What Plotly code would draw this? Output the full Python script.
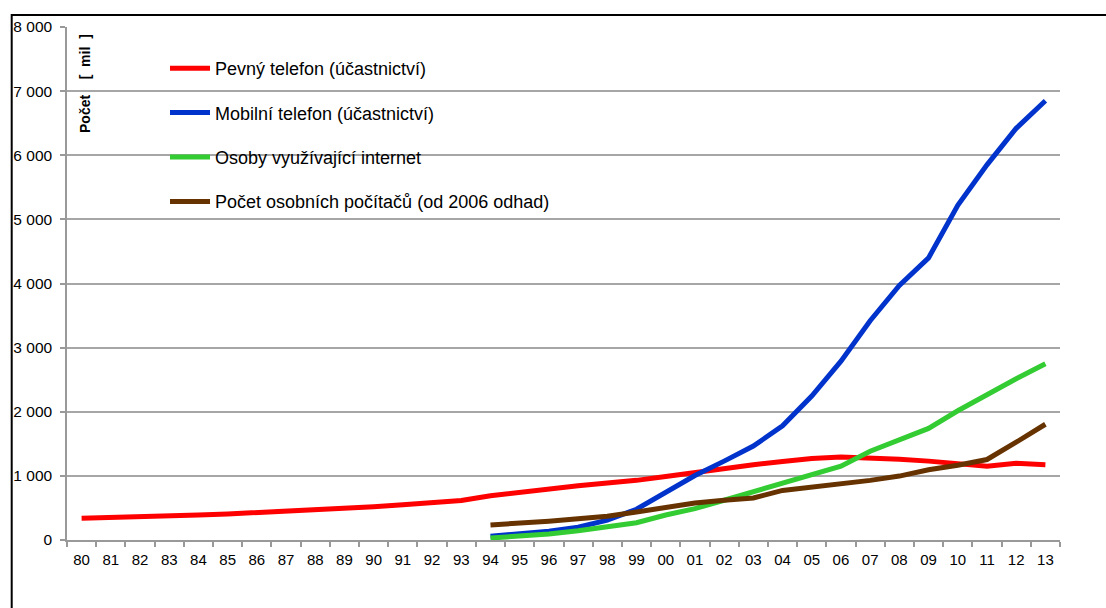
import plotly.graph_objects as go

# Roky 1980–2013 (popisky osy x)
years = ["80", "81", "82", "83", "84", "85", "86", "87", "88", "89",
         "90", "91", "92", "93", "94", "95", "96", "97", "98", "99",
         "00", "01", "02", "03", "04", "05", "06", "07", "08", "09",
         "10", "11", "12", "13"]

# Počty v milionech
pevny_telefon = [340, 350, 355, 370, 390, 405, 425, 445, 470, 490,
                 520, 550, 580, 615, 690, 745, 795, 845, 890, 930,
                 990, 1055, 1125, 1175, 1225, 1270, 1295, 1285, 1260, 1230,
                 1190, 1150, 1195, 1175]

mobilni_telefon = [None] * 14 + [58, 95, 138, 200, 310, 480,
                                 750, 1005, 1230, 1465, 1780, 2245, 2790, 3420, 3970, 4400,
                                 5220, 5850, 6420, 6850]

internet = [None] * 14 + [30, 55, 95, 145, 215, 270,
                          390, 490, 620, 750, 895, 1020, 1150, 1385, 1565, 1740,
                          2015, 2270, 2515, 2750]

pocitace = [None] * 14 + [235, 260, 292, 330, 372, 437,
                          515, 577, 620, 655, 773, 825, 867, 930, 997, 1095,
                          1165, 1255, 1525, 1805]

series = [
    ("Pevný telefon (účastnictví)", pevny_telefon, "#FF0000"),
    ("Mobilní telefon (účastnictví)", mobilni_telefon, "#0033CC"),
    ("Osoby využívající internet", internet, "#33CC33"),
    ("Počet osobních počítačů (od 2006 odhad)", pocitace, "#663300"),
]

fig = go.Figure()
for i, (name, values, color) in enumerate(series):
    fig.add_trace(go.Scatter(
        x=years, y=values, name=name, mode="lines",
        line=dict(color=color, width=5),
        legendgroup=f"g{i}",
    ))

FONT = "Liberation Sans, Arial, sans-serif"
L, R, T, B = 67, 46, 27, 68
W, H = 1106, 608
pw, ph = W - L - R, H - T - B

fig.update_layout(
    width=W, height=H,
    margin=dict(l=L, r=R, t=T, b=B),
    paper_bgcolor="white", plot_bgcolor="white",
    separators=", ",
    font=dict(family=FONT, size=15, color="black"),
    showlegend=True,
    legend=dict(
        x=(165 - L) / pw, y=1 - (50 - T) / ph,
        xanchor="left", yanchor="top",
        bgcolor="rgba(0,0,0,0)",
        font=dict(family=FONT, size=18, color="black"),
        tracegroupgap=18,
        itemwidth=40,
    ),
    xaxis=dict(
        type="category",
        range=[-0.5, len(years) - 0.5],
        tickson="boundaries",
        ticks="outside", ticklen=5, tickcolor="#999999", tickwidth=1.5,
        showline=True, linecolor="#999999", linewidth=1.5,
        showgrid=False, zeroline=False,
        tickfont=dict(family=FONT, size=15, color="black"),
        ticklabelstandoff=5,
        fixedrange=True,
    ),
    yaxis=dict(
        range=[0, 8000], dtick=1000, tickformat=",d",
        ticks="outside", ticklen=5, tickcolor="#999999", tickwidth=1.5,
        showline=True, linecolor="#999999", linewidth=1.5,
        showgrid=True, gridcolor="#A6A6A6", gridwidth=1.5,
        zeroline=False,
        tickfont=dict(family=FONT, size=15.5, color="black"),
        ticklabelstandoff=5,
        fixedrange=True,
    ),
    annotations=[dict(
        text="<b>Počet\u00a0\u00a0\u00a0\u00a0[\u00a0\u00a0mil\u00a0\u00a0]</b>",
        xref="paper", yref="paper",
        x=(85 - L) / pw, y=1 - (84 - T) / ph,
        xanchor="center", yanchor="middle",
        textangle=-90, showarrow=False,
        font=dict(family=FONT, size=14, color="black"),
    )],
    shapes=[dict(
        type="rect", xref="paper", yref="paper",
        x0=(11.7 - L) / pw, x1=(W + 20 - L) / pw,
        y0=-(B + 20) / ph, y1=1 + (T - 15) / ph,
        line=dict(color="black", width=2),
        fillcolor="rgba(0,0,0,0)",
    )],
)

fig.write_html("out.html")
